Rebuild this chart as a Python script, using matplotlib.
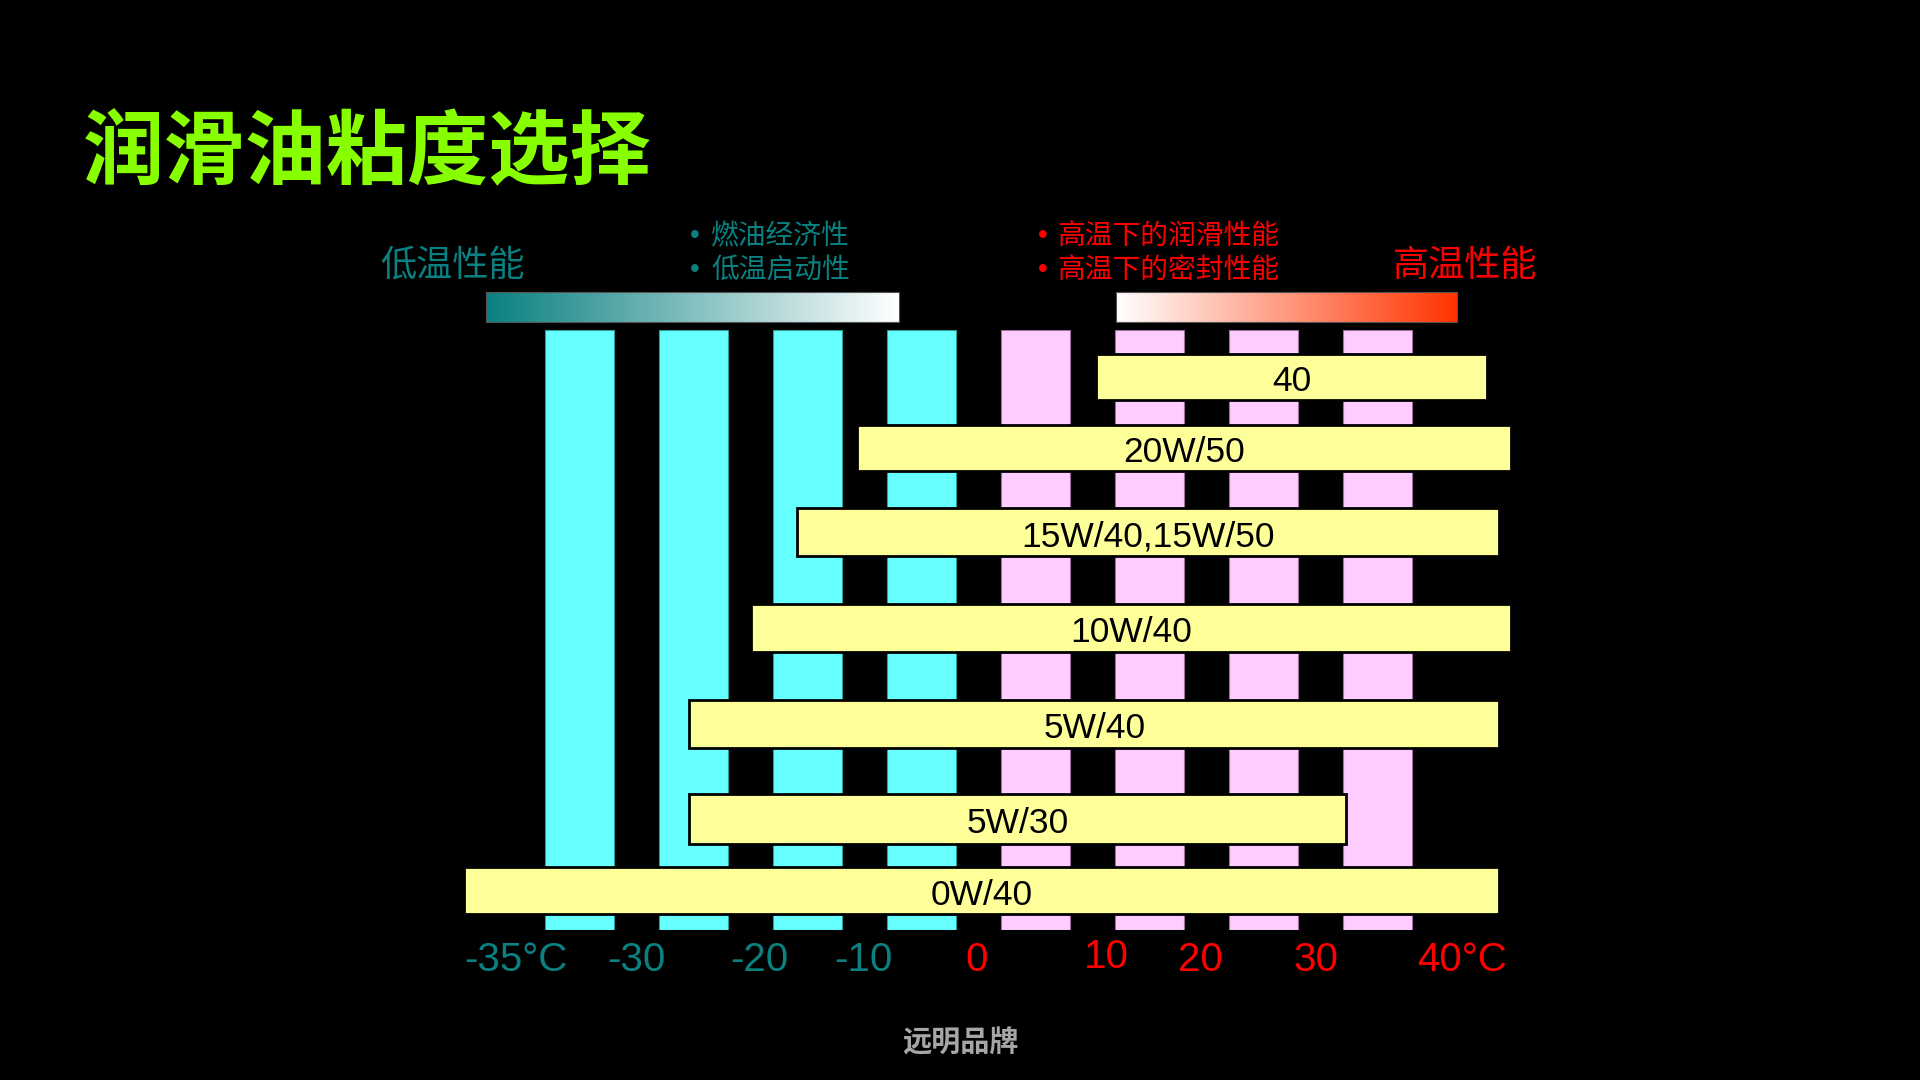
import numpy as np
import matplotlib.pyplot as plt
from matplotlib.colors import LinearSegmentedColormap
from matplotlib.patches import Rectangle
from matplotlib.transforms import ScaledTranslation

plt.rcParams['font.family'] = ['Noto Sans CJK SC', 'DejaVu Sans']

# oil grades (top to bottom) and the temperature span each one covers
grades = ['40', '20W/50', '15W/40,15W/50', '10W/40', '5W/40', '5W/30', '0W/40']
t_low = [10.3, -10.7, -15.9, -20.0, -25.4, -25.4, -45.1]
t_high = [44.6, 46.7, 45.7, 46.7, 45.7, 32.2, 45.7]
row_y = [92.2, 80.3, 66.3, 50.3, 34.4, 18.5, 6.6]
row_h = [7.7, 7.7, 8.0, 8.0, 8.0, 8.2, 7.9]

# background temperature columns
col_t = [-35, -25, -15, -5, 5, 15, 25, 35]

# axis labels
tick_txt = ['-35°C', '-30', '-20', '-10', '0', '10', '20', '30', '40°C']
tick_pos = [-40.6, -30.0, -19.2, -10.1, -0.2, 11.2, 19.5, 29.6, 42.4]
tick_dy = [0, 0, 0, 0, 0, 3.5, 0, 0, 0]

cold_notes = ['燃油经济性', '低温启动性']
hot_notes = ['高温下的润滑性能', '高温下的密封性能']

teal = '#0a8080'
red = '#ff0000'
LAT = ['Liberation Sans', 'DejaVu Sans']

fig = plt.figure(figsize=(19.2, 10.8), dpi=100, facecolor='black')
ax = fig.add_axes([408.5 / 1920, 150 / 1080, 1140 / 1920, 600 / 1080])
ax.set_facecolor('black')

# vertical columns
for t in col_t:
    if t < 0:
        fc, ec = '#66ffff', '#2f9f9f'
    else:
        fc, ec = '#ffccff', '#9f709f'
    ax.bar(t, 100, width=6.1, bottom=0, color=fc, edgecolor=ec, linewidth=0.8, zorder=1)

# grade bars
ax.barh(row_y, np.array(t_high) - np.array(t_low), left=t_low, height=row_h,
        color='#ffff99', edgecolor='black', linewidth=2.0, zorder=2)
for g, lo, hi, y in zip(grades, t_low, t_high, row_y):
    ax.text((lo + hi) / 2, y - 0.8, g, ha='center', va='center', fontsize=25.5,
            family=LAT, color='black', zorder=3)

# gradient bars above the columns
grad = np.linspace(0, 1, 256).reshape(1, -1)
cm_cold = LinearSegmentedColormap.from_list('cold', [teal, 'white'])
cm_hot = LinearSegmentedColormap.from_list('hot', ['white', '#ff3300'])
ax.imshow(grad, cmap=cm_cold, aspect='auto', extent=[-43.2, -7.0, 101.4, 106.3],
          clip_on=False, zorder=2)
ax.imshow(grad, cmap=cm_hot, aspect='auto', extent=[12.1, 42.0, 101.4, 106.3],
          clip_on=False, zorder=2)
for x0, x1 in [(-43.2, -7.0), (12.1, 42.0)]:
    ax.add_patch(Rectangle((x0, 101.4), x1 - x0, 4.9, fill=False, edgecolor='#555555',
                           linewidth=0.8, clip_on=False, zorder=3))

ax.set_xlim(-50, 50)
ax.set_ylim(0, 100)
ax.axis('off')

# temperature labels
for s, p, dy in zip(tick_txt, tick_pos, tick_dy):
    c = teal if s.startswith('-') else red
    ax.text(p, 0, s, ha='center', va='center', fontsize=29, color=c, family=LAT,
            transform=ax.transData + ScaledTranslation(0, -(30 - dy) / 100, fig.dpi_scale_trans),
            clip_on=False)

# title and notes
fig.text(83 / 1920, 1 - 154 / 1080, '润滑油粘度选择', fontsize=58.5, fontweight='bold',
         color='#88ff00', ha='left', va='center')
fig.text(452 / 1920, 1 - 266 / 1080, '低温性能', fontsize=26, color=teal, ha='center', va='center')
fig.text(1465 / 1920, 1 - 266 / 1080, '高温性能', fontsize=26, color=red, ha='center', va='center')
for i, (cn, hn) in enumerate(zip(cold_notes, hot_notes)):
    y = 1 - (236 + 34 * i) / 1080
    fig.text(695 / 1920, y, '•', fontsize=20, color=teal, family=LAT, ha='center', va='center')
    fig.text(711 / 1920, y, cn, fontsize=20, color=teal, ha='left', va='center')
    fig.text(1043 / 1920, y, '•', fontsize=20, color=red, family=LAT, ha='center', va='center')
    fig.text(1057 / 1920, y, hn, fontsize=20, color=red, ha='left', va='center')
fig.text(960 / 1920, 1 - 1042 / 1080, '远明品牌', fontsize=21, color='#a6a6a6',
         fontweight='bold', ha='center', va='center')

fig.savefig('out.png', dpi=100, facecolor='black')
